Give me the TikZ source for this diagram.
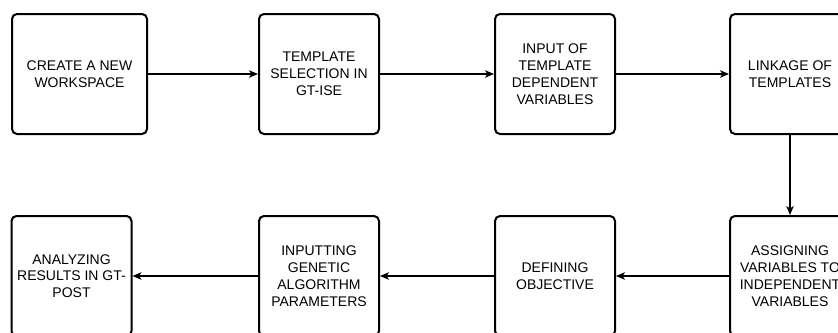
\documentclass[tikz,border=0pt]{standalone}
\usepackage{fontspec}
\setmainfont{Liberation Sans}
\usetikzlibrary{arrows.meta}
\begin{document}
\begin{tikzpicture}[x=1pt,y=-1pt,
  stepbox/.style={draw, line width=2pt, rounded corners=5pt, minimum width=120pt,
    minimum height=120pt, align=center, inner sep=0pt,
    font=\fontsize{14}{16.8}\selectfont},
  flow/.style={-{Stealth[length=9pt,width=7.5pt,inset=2.5pt]}, line width=1.1pt}]
\useasboundingbox (0,0) rectangle (838,332);
\clip (0,0) rectangle (838,332);
\node[stepbox, minimum width=135pt] (b1) at (79.5,74) {CREATE A NEW\\WORKSPACE};
\node[stepbox] (b2) at (319,74) {TEMPLATE\\SELECTION IN\\GT-ISE};
\node[stepbox] (b3) at (555,74) {INPUT OF\\TEMPLATE\\DEPENDENT\\VARIABLES};
\node[stepbox] (b4) at (790,74) {LINKAGE OF\\TEMPLATES};
\node[stepbox] (b8) at (790,276) {ASSIGNING\\VARIABLES TO\\INDEPENDENT\\VARIABLES};
\node[stepbox] (b7) at (555,276) {DEFINING\\OBJECTIVE};
\node[stepbox] (b6) at (319,276) {INPUTTING\\GENETIC\\ALGORITHM\\PARAMETERS};
\node[stepbox] (b5) at (71.5,276) {ANALYZING\\RESULTS IN GT-\\POST};
\draw[flow] (b1) -- (b2);
\draw[flow] (b2) -- (b3);
\draw[flow] (b3) -- (b4);
\draw[flow] (b4) -- (b8);
\draw[flow] (b8) -- (b7);
\draw[flow] (b7) -- (b6);
\draw[flow] (b6) -- (b5);
\end{tikzpicture}
\end{document}
